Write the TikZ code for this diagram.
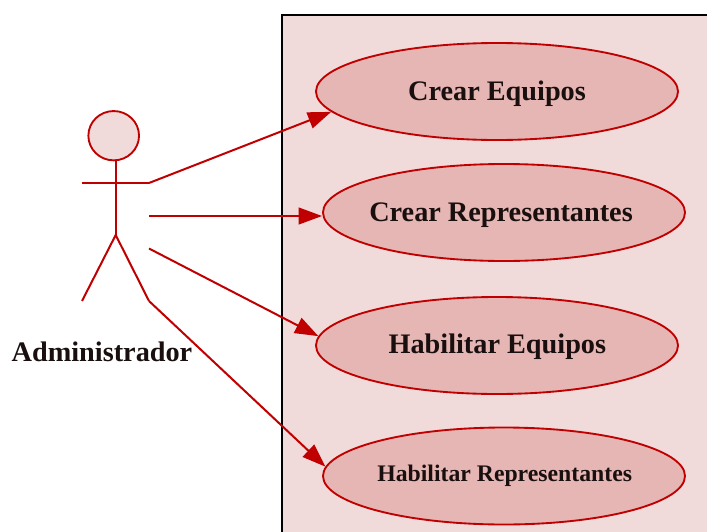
\documentclass[tikz,border=0pt]{standalone}
\usepackage{fontspec}
\setmainfont{Liberation Serif}
\usetikzlibrary{arrows.meta,shapes.geometric}
\definecolor{uline}{HTML}{C00000}
\definecolor{ufill}{HTML}{E5B6B3}
\definecolor{sysfill}{HTML}{F0DBDA}
\definecolor{utext}{HTML}{1A0F0F}
\newcommand{\ucasetext}[3]{\smash{\makebox[0pt]{\kern#1\raisebox{#2}{#3}}}}
\tikzset{
  x=0.75pt,y=-0.75pt,
  ucase/.style={ellipse,draw=uline,fill=ufill,line width=1.4pt,inner sep=0pt,text=utext,minimum width=271.5pt,minimum height=72.75pt,font=\bfseries\fontsize{21.2}{24}\selectfont},
  actorline/.style={draw=uline,line width=1.5pt},
  conn/.style={draw=uline,line width=1.5pt,-{Triangle[length=17.5pt,width=12.5pt]}},
  actorname/.style={inner sep=0pt,text=utext,font=\bfseries\fontsize{21.2}{24}\selectfont},
}
\begin{document}
\begin{tikzpicture}
\useasboundingbox (0,0) rectangle (707,532);
\path[fill=white] (0,0) rectangle (707,532);
\path[fill=sysfill] (282,532) -- (282,14.5) -- (708,14.5) -- (708,532) -- cycle;
\draw[black,line width=1.5pt] (282,533) -- (282,14.5) -- (708,14.5);
\node[ucase] (a) at (497,91.5) {\ucasetext{0pt}{-6.9pt}{Crear Equipos}};
\node[ucase] (b) at (504,212.5) {\ucasetext{-4.5pt}{-6.4pt}{Crear Representantes}};
\node[ucase] (c) at (497,345.5) {\ucasetext{0.5pt}{-6.2pt}{Habilitar Equipos}};
\node[ucase,font=\bfseries\fontsize{17.8}{22}\selectfont] (d) at (504,476) {\ucasetext{1pt}{-3.8pt}{Habilitar Representantes}};
\node[ellipse,draw=uline,fill=sysfill,line width=1.4pt,inner sep=0pt,minimum width=38pt,minimum height=37pt] (head) at (113.7,135.7) {};
\coordinate (neck) at (115.7,160);
\coordinate (hip) at (115.7,235);
\coordinate (armL) at (81.5,183);
\coordinate (armR) at (149,183);
\coordinate (legL) at (82,301);
\coordinate (legR) at (149,301);
\coordinate (s2) at (149,216);
\coordinate (s3) at (149,248.5);
\draw[actorline] (neck) -- (hip);
\draw[actorline] (armL) -- (armR);
\draw[actorline] (legL) -- (hip) -- (legR);
\node[actorname] (name) at (102,352) {Administrador};
\draw[conn] (armR) -- (a.187.5);
\draw[conn] (s2) -- (s2 -| b.west);
\draw[conn] (s3) -- (c.177);
\draw[conn] (legR) -- (d.177.5);
\end{tikzpicture}
\end{document}
